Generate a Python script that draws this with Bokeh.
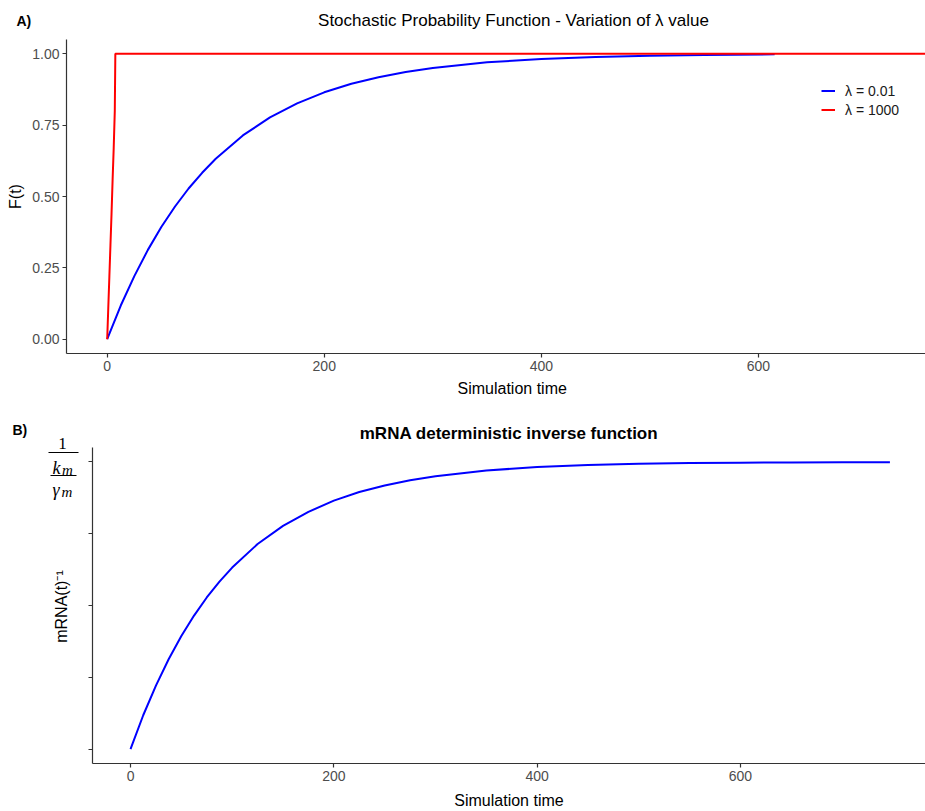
import math
from bokeh.plotting import figure
from bokeh.layouts import column, row
from bokeh.models import Range1d, FixedTicker, Legend, LegendItem, Title
from bokeh.core.properties import value
from bokeh.embed import file_html
from bokeh.resources import INLINE

# ---------------- data ----------------
# Panel A: stochastic probability function F(t)
blue_t = [0, 12.5, 25, 37.5, 50, 62.5, 75, 87.5, 100, 125, 150, 175, 200, 225, 250,
          275, 300, 350, 400, 450, 500, 550, 615]
blue_F = [0, 0.118, 0.221, 0.313, 0.394, 0.465, 0.528, 0.583, 0.632, 0.714, 0.777,
          0.826, 0.865, 0.895, 0.918, 0.936, 0.950, 0.970, 0.982, 0.989, 0.993, 0.996, 0.998]
red_t = [0, 1, 2, 3, 4, 5, 6, 7, 7.5, 760]
red_F = [0, 0.11, 0.22, 0.33, 0.44, 0.56, 0.67, 0.80, 1.0, 1.0]
legend_labels = ["\u03bb = 0.01", "\u03bb = 1000"]

# Panel B: mRNA deterministic inverse function
mrna_t = [0, 12.5, 25, 37.5, 50, 62.5, 75, 87.5, 100, 125, 150, 175, 200, 225, 250,
          275, 300, 350, 400, 450, 500, 550, 600, 650, 700, 747]
mrna_inv = [0, 0.118, 0.221, 0.313, 0.394, 0.465, 0.528, 0.583, 0.632, 0.714, 0.777,
            0.826, 0.865, 0.895, 0.918, 0.936, 0.950, 0.970, 0.982, 0.989, 0.993, 0.996,
            0.997, 0.998, 0.999, 0.999]

x_ticks = [0, 200, 400, 600]
yA_ticks = [0, 0.25, 0.5, 0.75, 1.0]
yA_tick_labels = ["0.00", "0.25", "0.50", "0.75", "1.00"]
yB_ticks = [0, 0.25, 0.5, 0.75, 1.0]

titleA = "Stochastic Probability Function - Variation of \u03bb value"
titleB = "mRNA deterministic inverse function"
xlabel = "Simulation time"
ylabelA = "F(t)"
ylabelB = "mRNA(t)\u207b\u00b9"

FONT = "Liberation Sans"
SERIF = "Liberation Serif"
AXC = "#333333"
TICKC = "#4D4D4D"

W = 925
H_STRIP_A = 39
H_A = 369
H_B = 403
W_STRIP_B = 88


def no_frame_align(p):
    try:
        p.frame_align = False
    except Exception:
        pass


def style_axes(p):
    for ax in (p.xaxis, p.yaxis):
        ax.axis_line_color = AXC
        ax.axis_line_width = 1.2
        ax.major_tick_line_color = AXC
        ax.major_tick_line_width = 1.2
        ax.major_tick_in = 0
        ax.major_tick_out = 4
        ax.minor_tick_line_color = None
        ax.major_label_text_font = FONT
        ax.major_label_text_font_size = "14px"
        ax.major_label_text_color = TICKC
        ax.major_label_standoff = 3
        ax.axis_label_text_font = FONT
        ax.axis_label_text_font_size = "16px"
        ax.axis_label_text_font_style = "normal"
        ax.axis_label_text_color = "black"
    p.xgrid.grid_line_color = None
    p.ygrid.grid_line_color = None
    p.outline_line_color = None
    p.background_fill_color = "white"
    p.border_fill_color = "white"
    no_frame_align(p)


def strip(width, height):
    s = figure(width=width, height=height, output_backend="svg", toolbar_location=None,
               x_range=Range1d(0, width), y_range=Range1d(0, height),
               x_axis_location=None, y_axis_location=None, title=None,
               min_border_left=0, min_border_right=0, min_border_top=0, min_border_bottom=0)
    s.outline_line_color = None
    s.grid.visible = False
    s.background_fill_color = "white"
    s.border_fill_color = "white"
    no_frame_align(s)
    return s


# ---------------- strip above panel A ("A)" and title) ----------------
sA = strip(W, H_STRIP_A)
sA.text(x=[16], y=[H_STRIP_A - 20], text=["A)"], text_font=value(FONT),
        text_font_size=value("14px"), text_font_style="bold",
        text_align="left", text_baseline="middle", text_color="black")
sA.text(x=[513], y=[H_STRIP_A - 20], text=[titleA], text_font=value(FONT),
        text_font_size=value("17px"), text_font_style="normal",
        text_align="center", text_baseline="middle", text_color="black")

# ---------------- Panel A ----------------
pA = figure(width=W, height=H_A, output_backend="svg", toolbar_location=None, title=None,
            x_range=Range1d(-37.5, 754), y_range=Range1d(-0.05, 1.05),
            min_border_left=66, min_border_right=0, min_border_top=0, min_border_bottom=55)
style_axes(pA)
pA.xaxis.ticker = FixedTicker(ticks=x_ticks)
pA.yaxis.ticker = FixedTicker(ticks=yA_ticks)
pA.yaxis.major_label_overrides = {t: s for t, s in zip(yA_ticks, yA_tick_labels)}
pA.yaxis.axis_label = ylabelA
pA.yaxis.axis_label_standoff = 5

rb = pA.line(blue_t, blue_F, line_color="#0000FF", line_width=2)
rr = pA.line(red_t, red_F, line_color="#FF0000", line_width=2)

legA = Legend(items=[LegendItem(label=legend_labels[0], renderers=[rb]),
                     LegendItem(label=legend_labels[1], renderers=[rr])],
              location=(755, 234), orientation="vertical",
              border_line_color=None, background_fill_alpha=0,
              padding=0, margin=0, spacing=0,
              glyph_width=14, glyph_height=19, label_height=19,
              label_standoff=10, label_text_font=FONT, label_text_font_size="14px",
              label_text_color="#1a1a1a")
pA.add_layout(legA)

pA.add_layout(Title(text=xlabel, align="left", offset=391,
                    text_font=FONT, text_font_size="16px", text_font_style="normal",
                    text_color="black", standoff=8), "below")

# ---------------- strip left of panel B ("B)", fraction, y label) ----------------
sB = strip(W_STRIP_B, H_B)
B_TOP = H_STRIP_A + H_A


def yb(page_y):
    return H_B - (page_y - B_TOP)


sB.text(x=[12], y=[yb(429)], text=["B)"], text_font=value(FONT),
        text_font_size=value("14px"), text_font_style="bold",
        text_align="left", text_baseline="middle", text_color="black")
# tick label of the top tick: 1 / (k_m / gamma_m)
sB.text(x=[62], y=[yb(443)], text=["1"], text_font=value(SERIF),
        text_font_size=value("17px"), text_align="center",
        text_baseline="alphabetic", text_color="black")
sB.text(x=[52, 52], y=[yb(467), yb(489)], text=["k", "\u03b3"], text_font=value(SERIF),
        text_font_size=value("18px"), text_font_style="italic", text_align="left",
        text_baseline="alphabetic", text_color="black")
sB.text(x=[61.5, 61], y=[yb(469), yb(491)], text=["m", "m"], text_font=value(SERIF),
        text_font_size=value("15px"), text_font_style="italic", text_align="left",
        text_baseline="alphabetic", text_color="black")
sB.segment(x0=[48, 50], x1=[78, 76], y0=[yb(452), yb(475)], y1=[yb(452), yb(475)],
           line_color="black", line_width=1.2)
sB.text(x=[61], y=[yb(606)], text=[ylabelB], text_font=value(FONT),
        text_font_size=value("16px"), text_align="center", text_baseline="middle",
        angle=math.pi / 2, text_color="black")

# ---------------- Panel B ----------------
pB = figure(width=W - W_STRIP_B, height=H_B, output_backend="svg", toolbar_location=None,
            x_range=Range1d(-37.4, 782), y_range=Range1d(-0.05, 1.05),
            min_border_left=4, min_border_right=0, min_border_top=39, min_border_bottom=46)
style_axes(pB)
pB.xaxis.ticker = FixedTicker(ticks=x_ticks)
pB.yaxis.ticker = FixedTicker(ticks=yB_ticks)
pB.yaxis.major_label_overrides = {t: "" for t in yB_ticks}
pB.yaxis.major_label_standoff = 0
pB.xaxis.axis_label = xlabel
pB.xaxis.axis_label_standoff = 8

pB.title = Title(text=titleB, align="center",
                 text_font=FONT, text_font_size="17px", text_font_style="bold",
                 text_color="black", standoff=9)

pB.line(mrna_t, mrna_inv, line_color="#0000FF", line_width=2)

layout = column(sA, pA, row(sB, pB, spacing=0), spacing=0)
open("out.html", "w").write(file_html(layout, INLINE))
